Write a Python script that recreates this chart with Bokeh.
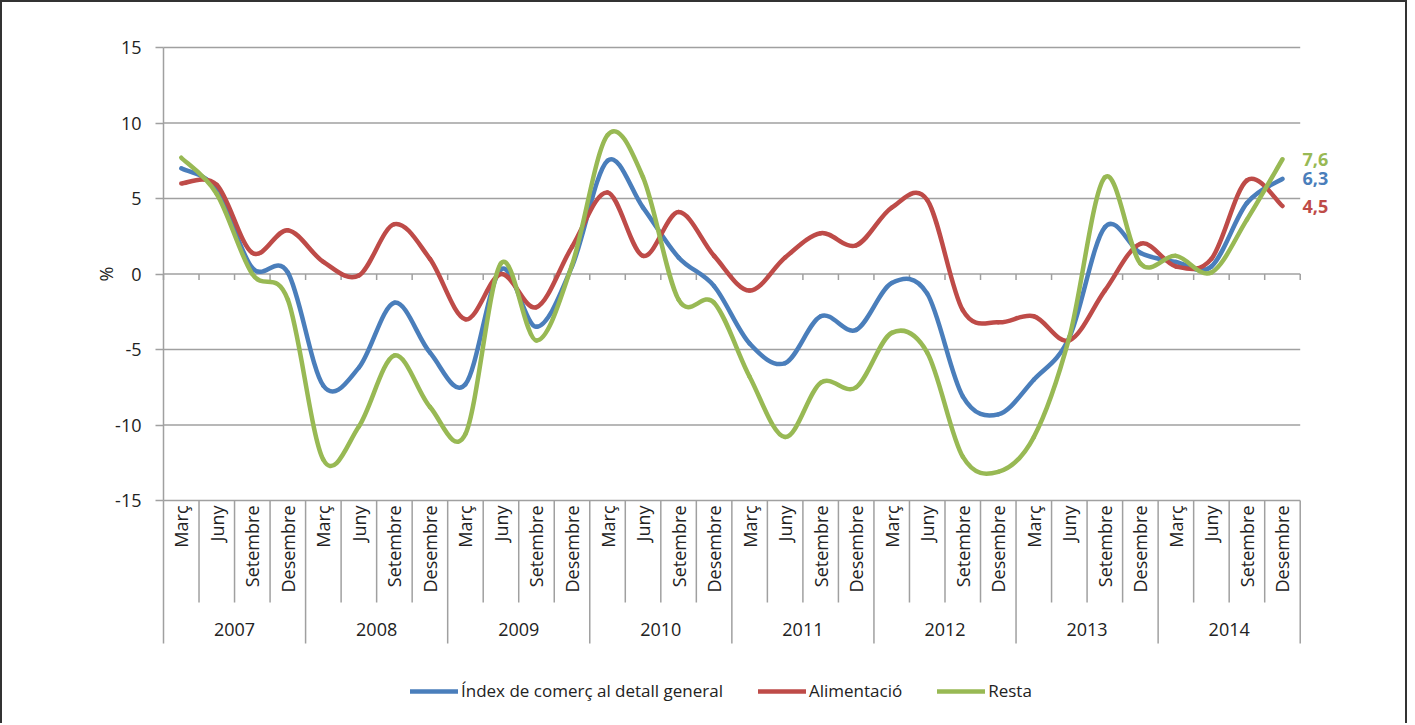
import math
from bokeh.plotting import figure
from bokeh.models import Range1d, FixedTicker, Legend, LegendItem, ColumnDataSource
from bokeh.core.properties import value
from bokeh.embed import file_html
from bokeh.resources import INLINE

# ---------------- data ----------------
years = ["2007", "2008", "2009", "2010", "2011", "2012", "2013", "2014"]
quarters = ["Març", "Juny", "Setembre", "Desembre"]

general = [7.0, 5.6, 0.4, 0.1, -7.4, -6.2, -1.9, -5.2, -7.3, 0.3, -3.5, 0.5,
           7.5, 4.4, 1.1, -0.8, -4.6, -5.9, -2.8, -3.7, -0.6, -1.3, -8.1, -9.3,
           -7.0, -4.2, 3.1, 1.4, 0.8, 0.5, 4.7, 6.3]
alimentacio = [6.0, 5.9, 1.4, 2.9, 0.8, -0.1, 3.3, 1.0, -3.0, 0.0, -2.2, 1.8,
               5.4, 1.2, 4.1, 1.2, -1.1, 1.1, 2.7, 1.9, 4.4, 4.9, -2.4, -3.2,
               -2.8, -4.4, -1.1, 2.0, 0.5, 1.0, 6.2, 4.5]
resta = [7.7, 5.3, 0.0, -1.7, -12.3, -10.1, -5.4, -8.8, -10.6, 0.7, -4.4, 0.6,
         9.2, 6.4, -1.7, -1.9, -6.8, -10.8, -7.2, -7.5, -3.9, -5.2, -12.1, -13.1,
         -10.8, -4.2, 6.4, 0.7, 1.2, 0.1, 3.6, 7.6]

series_names = ["Índex de comerç al detall general", "Alimentació", "Resta"]
series_colors = ["#4A7EBB", "#BE4B48", "#98B954"]
y_ticks = [-15, -10, -5, 0, 5, 10, 15]
y_title = "%"

FONT = "Open Sans"
TXT = "#222222"
GRID = "#A0A0A0"

nq = len(quarters)
n = len(years) * nq
quarter_labels = [q for _ in years for q in quarters]
centres = [i + 0.5 for i in range(n)]                 # category centres
bounds = list(range(0, n + 1))                        # category boundaries
q_bounds = [b for b in bounds if b % nq != 0]
y_bounds = [b for b in bounds if b % nq == 0]
year_centres = [nq * k + nq / 2 for k in range(len(years))]

# ---------------- layout (pixels) ----------------
W, H = 1407, 723
LEFT, TOP, RIGHT, BOTTOM = 88, 33, 56, 10
AXIS_GAP = 73                         # frame left edge -> value axis
HEAD_PX = 12                          # room above the top gridline for its label
VAL_PX = 453                          # pixel height of the -15..15 value band
frame_w = W - LEFT - RIGHT
frame_h = H - TOP - BOTTOM
x_end = n + 1.5
cat_px = (frame_w - AXIS_GAP) / x_end
x_start = -AXIS_GAP / cat_px
y_lo, y_hi = y_ticks[0], y_ticks[-1]
units_per_px = (y_hi - y_lo) / VAL_PX
y_end = y_hi + HEAD_PX * units_per_px
y_start = y_end - frame_h * units_per_px              # room below for the category table

p = figure(width=W, height=H, output_backend="svg", toolbar_location=None,
           x_range=Range1d(x_start, x_end), y_range=Range1d(y_start, y_end),
           min_border_left=LEFT, min_border_top=TOP, min_border_right=RIGHT,
           min_border_bottom=BOTTOM)
p.styles = {"border-left": "2px solid #333333", "border-right": "2px solid #333333",
            "border-top": "2px solid #333333"}
p.outline_line_color = None
p.background_fill_color = "white"
p.border_fill_color = "white"
p.xaxis.visible = False
p.xgrid.grid_line_color = None
p.ygrid.grid_line_color = None

# ---- y axis, crossing the category axis at its start ----
p.yaxis.fixed_location = 0
p.yaxis.bounds = (y_lo, y_hi)
p.yaxis.ticker = FixedTicker(ticks=y_ticks)
p.yaxis.major_label_overrides = {t: str(t) for t in y_ticks}
p.yaxis.axis_line_color = GRID
p.yaxis.axis_line_width = 1.5
p.yaxis.major_tick_line_color = GRID
p.yaxis.major_tick_line_width = 1.5
p.yaxis.major_tick_out = 8
p.yaxis.major_tick_in = 0
p.yaxis.minor_tick_line_color = None
p.yaxis.major_label_standoff = 14
p.yaxis.major_label_text_font = FONT
p.yaxis.major_label_text_font_size = "18px"
p.yaxis.major_label_text_color = TXT
# axis title beside the zero tick
p.text(x=[0], y=[0], text=[y_title], x_offset=-58, angle=math.pi / 2,
       text_align="center", text_baseline="middle", text_color=TXT,
       text_font=value(FONT), text_font_size="18px")

# ---- horizontal gridlines over the category span ----
p.segment(x0=[0] * len(y_ticks), x1=[n] * len(y_ticks), y0=y_ticks, y1=y_ticks,
          line_color=GRID, line_width=1.5)
# ticks on the zero line at category boundaries
p.ray(x=bounds, y=[0] * len(bounds), length=6, length_units="screen", angle=-math.pi / 2,
      line_color=GRID, line_width=1.5)
# category table dividers below the value band
p.ray(x=q_bounds, y=[y_lo] * len(q_bounds), length=102, length_units="screen",
      angle=-math.pi / 2, line_color=GRID, line_width=1.5)
p.ray(x=y_bounds, y=[y_lo] * len(y_bounds), length=143, length_units="screen",
      angle=-math.pi / 2, line_color=GRID, line_width=1.5)
# quarter and year labels
p.text(x=centres, y=[y_lo] * n, text=quarter_labels, angle=math.pi / 2, y_offset=5,
       text_align="right", text_baseline="middle", text_color=TXT,
       text_font=value(FONT), text_font_size="18px")
p.text(x=year_centres, y=[y_lo] * len(years), text=years, y_offset=122,
       text_align="center", text_baseline="top", text_color=TXT,
       text_font=value(FONT), text_font_size="18px")

# ---- smoothed lines (Bezier segments through the data points) ----
items = []
for name, vals, col in zip(series_names, [general, alimentacio, resta], series_colors):
    x0, y0, x1, y1, cx0, cy0, cx1, cy1 = [], [], [], [], [], [], [], []
    for i in range(n - 1):
        im = max(i - 1, 0)
        i2 = min(i + 2, n - 1)
        x0.append(centres[i]); y0.append(vals[i])
        x1.append(centres[i + 1]); y1.append(vals[i + 1])
        cx0.append(centres[i] + (centres[i + 1] - centres[im]) / 6)
        cy0.append(vals[i] + (vals[i + 1] - vals[im]) / 6)
        cx1.append(centres[i + 1] - (centres[i2] - centres[i]) / 6)
        cy1.append(vals[i + 1] - (vals[i2] - vals[i]) / 6)
    src = ColumnDataSource(dict(x0=x0, y0=y0, x1=x1, y1=y1, cx0=cx0, cy0=cy0, cx1=cx1, cy1=cy1))
    r = p.bezier(x0="x0", y0="y0", x1="x1", y1="y1", cx0="cx0", cy0="cy0", cx1="cx1", cy1="cy1",
                 source=src, line_color=col, line_width=4.5, line_cap="round")
    items.append(LegendItem(label=name, renderers=[r]))
    # end value label
    p.text(x=[centres[-1]], y=[vals[-1]], text=[f"{vals[-1]:.1f}".replace(".", ",")],
           x_offset=20, text_baseline="middle", text_align="left", text_color=col,
           text_font=value(FONT), text_font_size="18px", text_font_style="bold")

legend = Legend(items=items, location=(AXIS_GAP + 247, 13), orientation="horizontal")
legend.border_line_color = None
legend.background_fill_alpha = 0
legend.padding = 0
legend.margin = 0
legend.spacing = 35
legend.glyph_width = 48
legend.glyph_height = 20
legend.label_standoff = 3
legend.label_text_font = FONT
legend.label_text_font_size = "17px"
legend.label_text_color = TXT
p.add_layout(legend)

open("out.html", "w").write(file_html(p, INLINE))
